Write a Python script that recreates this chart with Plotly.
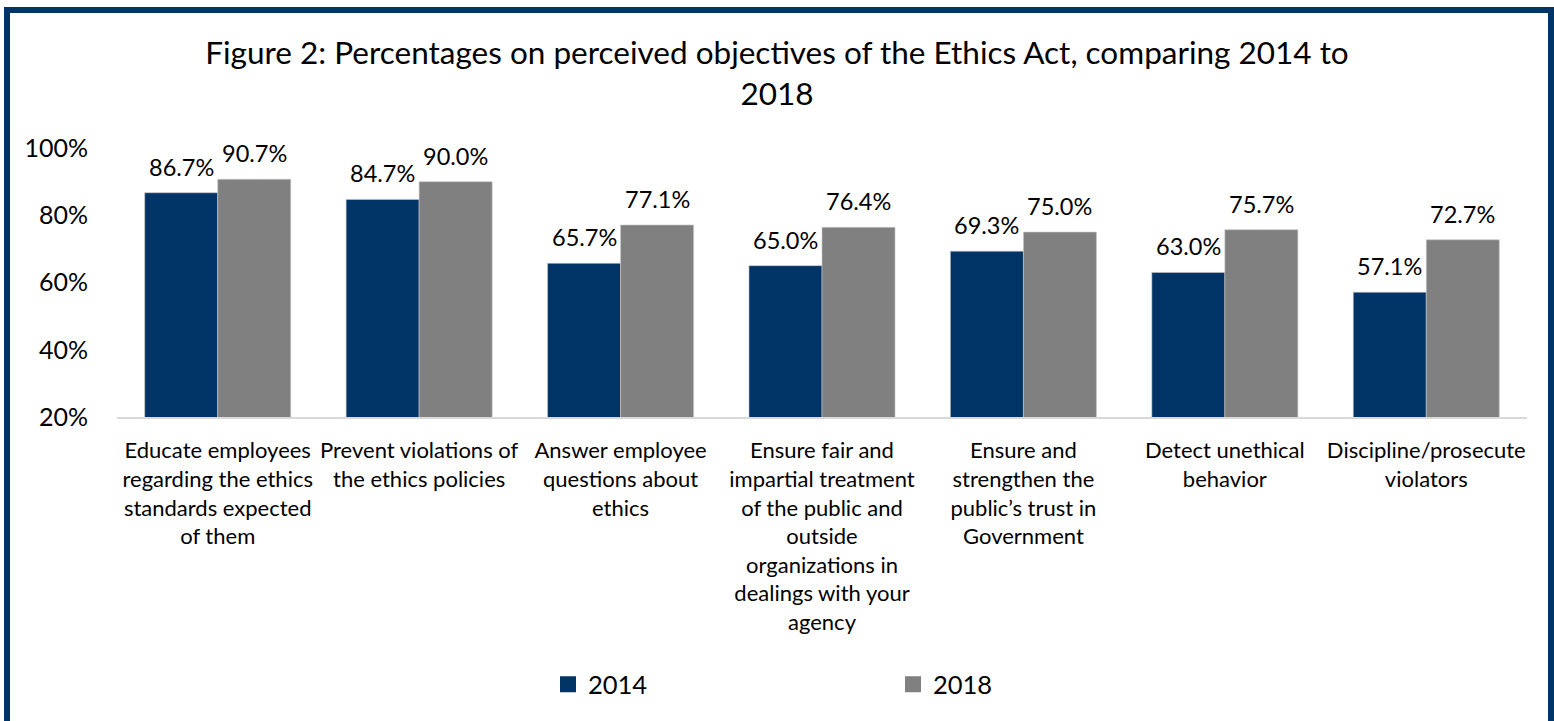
import plotly.graph_objects as go

categories = [
    "Educate employees<br>regarding the ethics<br>standards expected<br>of them",
    "Prevent violations of<br>the ethics policies",
    "Answer employee<br>questions about<br>ethics",
    "Ensure fair and<br>impartial treatment<br>of the public and<br>outside<br>organizations in<br>dealings with your<br>agency",
    "Ensure and<br>strengthen the<br>public\u2019s trust in<br>Government",
    "Detect unethical<br>behavior",
    "Discipline/prosecute<br>violators",
]
series_names = ["2014", "2018"]
values_2014 = [86.7, 84.7, 65.7, 65.0, 69.3, 63.0, 57.1]
values_2018 = [90.7, 90.0, 77.1, 76.4, 75.0, 75.7, 72.7]
y_ticks = [20, 40, 60, 80, 100]
y_tick_labels = ["20%", "40%", "60%", "80%", "100%"]

NAVY = "#003366"
GRAY = "#808080"
FONT = "Lato"

W, H = 1554, 721
L, R, T, B = 117, 27, 148, 302
pw, ph = W - L - R, H - T - B
BARGAP = 0.275
bar_px = pw / len(categories) * (1 - BARGAP) / 2

def px_x(x):
    return (x - L) / pw

def px_y(y):
    return (H - B - y) / ph

fig = go.Figure()
for name, vals, col in [(series_names[0], values_2014, NAVY), (series_names[1], values_2018, GRAY)]:
    fig.add_trace(go.Bar(
        name=name, x=categories, y=vals, marker_color=col,
        marker_line=dict(color="#c8c8c8", width=0.6),
        showlegend=False,
    ))
    # legend-only square markers
    fig.add_trace(go.Scatter(
        name=name, x=[None], y=[None], mode="markers",
        marker=dict(symbol="square", size=17, color=col),
        showlegend=True,
    ))

annotations = []
for vals, sign in [(values_2014, -1), (values_2018, 1)]:
    for c, v in zip(categories, vals):
        annotations.append(dict(
            x=c, y=v, xref="x", yref="y", text=f"{v:.1f}%", showarrow=False,
            xanchor="center", yanchor="bottom", xshift=sign * bar_px / 2, yshift=10,
            font=dict(size=23.5, family=FONT, color="#000000"),
        ))

fig.update_layout(
    width=W, height=H,
    margin=dict(l=L, r=R, t=T, b=B),
    paper_bgcolor="white", plot_bgcolor="white",
    font=dict(family=FONT, color="#000000", size=22),
    barmode="group", bargap=BARGAP, bargroupgap=0,
    title=dict(
        text="Figure 2: Percentages on perceived objectives of the Ethics Act, comparing 2014 to<br>2018",
        x=0.5, xref="container", xanchor="center", y=1 - 64 / H, yanchor="middle",
        font=dict(size=31.5, family=FONT, color="#000000"),
    ),
    xaxis=dict(
        showline=True, linecolor="#d9d9d9", linewidth=2, ticks="",
        tickfont=dict(size=22, family=FONT, color="#000000"), tickangle=0,
        showgrid=False, ticklabelstandoff=13,
    ),
    yaxis=dict(
        range=[20, 100], tickvals=y_ticks, ticktext=y_tick_labels,
        showgrid=False, zeroline=False, showline=False, ticks="",
        tickfont=dict(size=25, family=FONT, color="#000000"),
        ticklabelstandoff=28,
    ),
    showlegend=True,
    legend=dict(
        orientation="h", x=px_x(548), xanchor="left", y=px_y(665), yanchor="top",
        font=dict(size=25.5, family=FONT, color="#000000"),
        entrywidth=300, entrywidthmode="pixels", traceorder="normal",
        itemsizing="trace",
    ),
    annotations=annotations,
    shapes=[
        dict(type="rect", xref="paper", yref="paper",
             x0=px_x(7), x1=px_x(1551), y0=px_y(760), y1=px_y(9),
             line=dict(color=NAVY, width=6), fillcolor="rgba(0,0,0,0)", layer="above"),
    ],
)

fig.write_html("out.html")
